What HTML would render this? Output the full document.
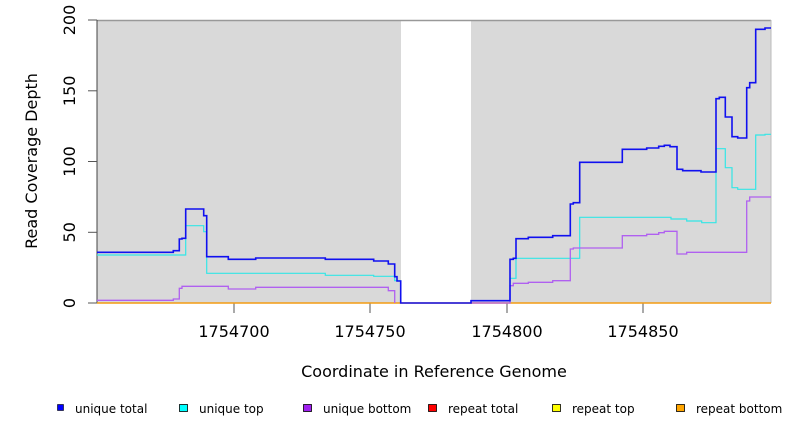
<!DOCTYPE html>
<html><head><style>body{margin:0;background:#fff}svg{display:block}</style></head><body>
<svg width="792" height="432" xmlns="http://www.w3.org/2000/svg" font-family="'DejaVu Sans','Liberation Sans',sans-serif">
<rect x="97" y="20" width="304" height="283" fill="#d9d9d9"/>
<rect x="471" y="20" width="300" height="283" fill="#d9d9d9"/>
<line x1="97" y1="20.5" x2="771" y2="20.5" stroke="#999" stroke-width="1.5"/>
<line x1="771" y1="20" x2="771" y2="303" stroke="#bbb" stroke-width="1"/>
<line x1="97" y1="20" x2="97" y2="303" stroke="#444" stroke-width="1"/>
<g stroke="#555" stroke-width="1">
<line x1="88" y1="303" x2="97" y2="303"/><line x1="88" y1="232.3" x2="97" y2="232.3"/><line x1="88" y1="161.5" x2="97" y2="161.5"/><line x1="88" y1="90.8" x2="97" y2="90.8"/><line x1="88" y1="20" x2="97" y2="20"/>
<line x1="234" y1="303" x2="234" y2="313"/><line x1="370" y1="303" x2="370" y2="313"/><line x1="507" y1="303" x2="507" y2="313"/><line x1="643" y1="303" x2="643" y2="313"/>
</g>
<g font-size="16" fill="#000" text-anchor="middle">
<text transform="translate(75,303) rotate(-90)">0</text>
<text transform="translate(75,232.3) rotate(-90)">50</text>
<text transform="translate(75,161.5) rotate(-90)">100</text>
<text transform="translate(75,90.8) rotate(-90)">150</text>
<text transform="translate(75,20) rotate(-90)">200</text>
<text x="234" y="337">1754700</text><text x="370" y="337">1754750</text><text x="507" y="337">1754800</text><text x="643" y="337">1754850</text>
<text x="434" y="377">Coordinate in Reference Genome</text>
<text transform="translate(37,161) rotate(-90)">Read Coverage Depth</text>
</g>
<line x1="97" y1="303" x2="771" y2="303" stroke="#f39c12" stroke-width="1.5"/>
<g fill="none" stroke-linejoin="miter">
<polyline stroke="#33e6e6" stroke-width="1.2" points="97,255 185.7,255 185.7,225.7 203.7,225.7 203.7,231.7 206.7,231.7 206.7,273.3 325.3,273.3 325.3,275.3 373.7,275.3 373.7,276.3 394.7,276.3 394.7,280.7 400.7,280.7 400.7,303"/>
<polyline stroke="#33e6e6" stroke-width="1.2" points="471,300.7 510,300.7 510,278.3 516,278.3 516,258.3 579.7,258.3 579.7,217.3 671,217.3 671,219 686.7,219 686.7,221 701.7,221 701.7,222.7 716,222.7 716,148.7 725.3,148.7 725.3,167.7 732,167.7 732,187.7 737.7,187.7 737.7,189.3 755.7,189.3 755.7,135 765,135 765,134.3 771,134.3"/>
<polyline stroke="#b060f0" stroke-width="1.3" points="97,300.3 173.3,300.3 173.3,299 179.3,299 179.3,288.3 182,288.3 182,286.3 228.3,286.3 228.3,289 255.7,289 255.7,287.3 388.3,287.3 388.3,290.7 394.7,290.7 394.7,303"/>
<polyline stroke="#b060f0" stroke-width="1.3" points="471,303 510,303 510,285.7 513.3,285.7 513.3,283.3 528.3,283.3 528.3,282.3 552.7,282.3 552.7,280.7 570.3,280.7 570.3,249 573.3,249 573.3,248 622.3,248 622.3,235.7 646.7,235.7 646.7,234.3 658.7,234.3 658.7,232.7 664.3,232.7 664.3,231.3 677,231.3 677,254 686.7,254 686.7,252.3 746.7,252.3 746.7,201 749.7,201 749.7,197 771,197"/>
<polyline stroke="#1010f0" stroke-width="1.6" points="97,252.3 173.3,252.3 173.3,250.7 179.3,250.7 179.3,239 182,239 182,238.3 185.7,238.3 185.7,209 203.7,209 203.7,215.7 206.7,215.7 206.7,256.7 228.3,256.7 228.3,259.3 255.7,259.3 255.7,258 325.3,258 325.3,259.3 373.7,259.3 373.7,261 388.3,261 388.3,264 394.7,264 394.7,276.7 397,276.7 397,281 400.7,281 400.7,303 471,303 471,300.7 510,300.7 510,259.3 513.3,259.3 513.3,258.3 516,258.3 516,238.7 528.3,238.7 528.3,237.3 552.7,237.3 552.7,235.7 570.3,235.7 570.3,204 573.3,204 573.3,202.7 579.7,202.7 579.7,162.3 622.3,162.3 622.3,149.3 646.7,149.3 646.7,148 658.7,148 658.7,146.3 664.3,146.3 664.3,145.3 670,145.3 670,146.7 677,146.7 677,169.3 682.7,169.3 682.7,170.7 701,170.7 701,172 716,172 716,98.7 719.3,98.7 719.3,97.3 725.3,97.3 725.3,117 732,117 732,136.7 737.7,136.7 737.7,138 746.7,138 746.7,87.7 749.7,87.7 749.7,82.7 755.7,82.7 755.7,29.3 765,29.3 765,28 771,28"/>
</g>
<g font-size="12" fill="#000">
<rect x="57.5" y="404.5" width="6" height="6" fill="#0000ff" stroke="#000" stroke-width="0.6"/><text x="75" y="413">unique total</text>
<rect x="179.5" y="404.5" width="8" height="7" fill="#00ffff" stroke="#000" stroke-width="0.8"/><text x="199" y="413">unique top</text>
<rect x="303.5" y="404.5" width="8" height="7" fill="#a020f0" stroke="#000" stroke-width="0.8"/><text x="323" y="413">unique bottom</text>
<rect x="428.5" y="404.5" width="8" height="7" fill="#ff0000" stroke="#000" stroke-width="0.8"/><text x="448" y="413">repeat total</text>
<rect x="552.5" y="404.5" width="8" height="7" fill="#ffff00" stroke="#000" stroke-width="0.8"/><text x="572" y="413">repeat top</text>
<rect x="676.5" y="404.5" width="8" height="7" fill="#ffa500" stroke="#000" stroke-width="0.8"/><text x="696" y="413">repeat bottom</text>
</g>
</svg>
</body></html>
